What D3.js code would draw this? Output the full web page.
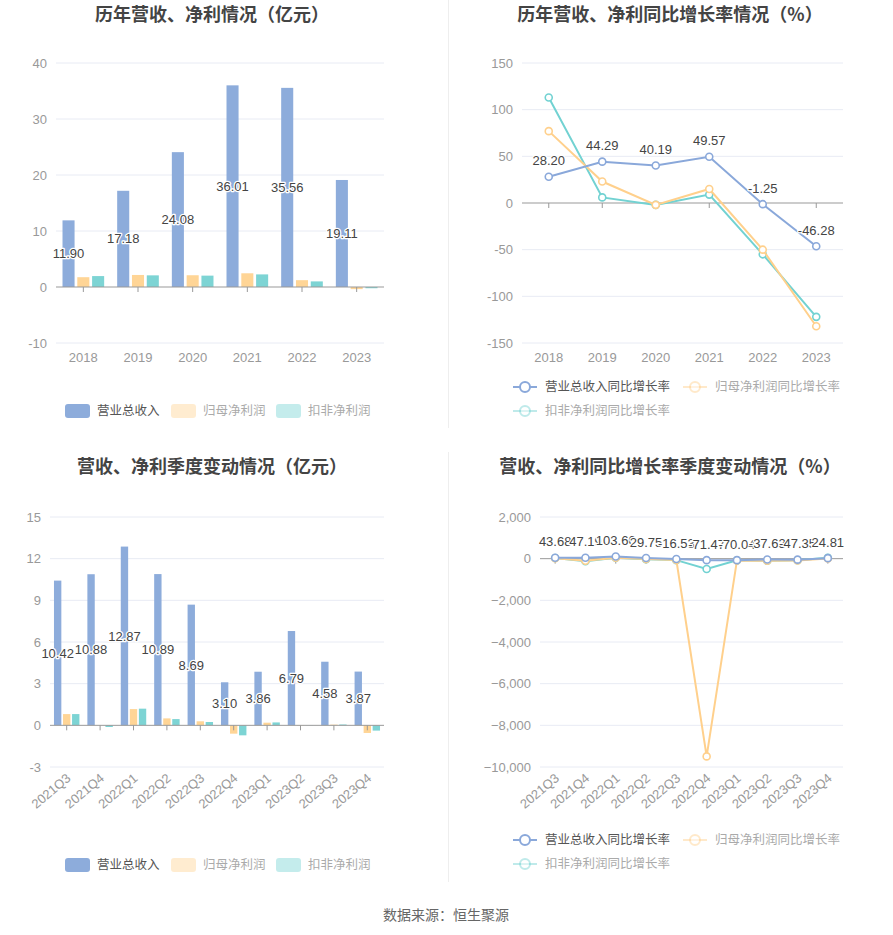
<!DOCTYPE html>
<html>
<head>
<meta charset="utf-8">
<script src="https://cdn.jsdelivr.net/npm/d3@7/dist/d3.min.js"></script>
<style>
body { margin: 0; background: #fff; }
svg text { font-family: "Liberation Sans", "Noto Sans CJK SC", sans-serif; }
.title { font-family: "Noto Sans CJK SC", sans-serif; font-weight: bold; }
.cn { font-family: "Noto Sans CJK SC", sans-serif; }
</style>
</head>
<body>
<svg width="893" height="935"></svg>
<script>
// yearly
var years = ['2018', '2019', '2020', '2021', '2022', '2023'];
var revenue = [11.90, 17.18, 24.08, 36.01, 35.56, 19.11];
var netProfit = [1.75, 2.15, 2.10, 2.45, 1.22, -0.38];
var deductedProfit = [1.95, 2.08, 2.03, 2.25, 1.00, -0.22];
var revenueYoY = [28.20, 44.29, 40.19, 49.57, -1.25, -46.28];
var netProfitYoY = [77, 23, -2, 15, -50, -132];
var deductedYoY = [113, 6, -2, 9, -55, -122];

// quarterly
var quarters = ['2021Q3', '2021Q4', '2022Q1', '2022Q2', '2022Q3', '2022Q4', '2023Q1', '2023Q2', '2023Q3', '2023Q4'];
var qRevenue = [10.42, 10.88, 12.87, 10.89, 8.69, 3.10, 3.86, 6.79, 4.58, 3.87];
var qNetProfit = [0.81, 0.006, 1.17, 0.50, 0.29, -0.60, 0.19, 0.02, 0.05, -0.55];
var qDeducted = [0.81, -0.12, 1.20, 0.45, 0.24, -0.72, 0.21, 0.01, 0.06, -0.38];
var qRevenueYoY = [43.68, 47.19, 103.60, 29.75, -16.53, -71.47, -70.04, -37.63, -47.35, 24.81];
var qNetProfitYoY = [20, -99, 45, -20, -64, -9490, -84, -96, -83, 8];
var qDeductedYoY = [30, -120, 40, -30, -70, -495, -82, -98, -75, 47];

var barNames = ['营业总收入', '归母净利润', '扣非净利润'];
var lineNames = ['营业总收入同比增长率', '归母净利润同比增长率', '扣非净利润同比增长率'];
var colors = ['#8DACDB', '#FFD596', '#7DD4D4'];
var lineColors = ['#8AA8DA', '#FFD08C', '#72D2D2'];

var svg = d3.select('svg');

// panel separators
svg.append('line').attr('x1', 448.5).attr('x2', 448.5).attr('y1', 0).attr('y2', 428).attr('stroke', '#eeeeee');
svg.append('line').attr('x1', 448.5).attr('x2', 448.5).attr('y1', 452).attr('y2', 882).attr('stroke', '#eeeeee');

function title(x, y, t) {
  svg.append('text').attr('class', 'title').attr('x', x).attr('y', y).attr('dy', '0.35em')
    .attr('text-anchor', 'middle').attr('font-size', 18).attr('fill', '#444').text(t);
}

function frame(o) {
  var g = svg.append('g');
  var y = d3.scaleLinear().domain(o.domain).range([o.bottom, o.top]);
  var x = d3.scaleBand().domain(o.cats).range([o.left, o.right]);
  var ticks = d3.range(o.domain[0], o.domain[1] + o.step / 2, o.step);
  g.selectAll('.grid').data(ticks.filter(function(t){ return t !== 0; })).join('line')
    .attr('x1', o.left).attr('x2', o.right)
    .attr('y1', function(d){ return y(d); }).attr('y2', function(d){ return y(d); })
    .attr('stroke', '#E8EBF4');
  g.selectAll('.yl').data(ticks).join('text')
    .attr('x', o.left - 9).attr('y', function(d){ return y(d); }).attr('dy', '0.35em')
    .attr('text-anchor', 'end').attr('font-size', 13).attr('fill', '#999')
    .text(function(d){ return o.fmt ? o.fmt(d) : d; });
  var c = function(d){ return x(d) + x.bandwidth() / 2; };
  if (o.rotate) {
    g.selectAll('.xl').data(o.cats).join('text')
      .attr('transform', function(d){ return 'translate(' + (c(d) + 2) + ',' + (o.bottom + 9) + ') rotate(-40)'; })
      .attr('dy', '0.35em').attr('text-anchor', 'end').attr('font-size', 13).attr('fill', '#999')
      .text(function(d){ return d; });
  } else {
    g.selectAll('.xl').data(o.cats).join('text')
      .attr('x', c).attr('y', o.bottom + 14).attr('dy', '0.35em')
      .attr('text-anchor', 'middle').attr('font-size', 13).attr('fill', '#999')
      .text(function(d){ return d; });
  }
  return {g: g, x: x, y: y, c: c};
}

function axisZero(f, o) {
  f.g.append('line').attr('x1', o.left).attr('x2', o.right)
    .attr('y1', f.y(0)).attr('y2', f.y(0)).attr('stroke', '#999');
  f.g.selectAll('.tk').data(o.cats).join('line')
    .attr('x1', f.c).attr('x2', f.c).attr('y1', f.y(0)).attr('y2', f.y(0) + 5).attr('stroke', '#999');
}

function label(g, x, y, t) {
  g.append('text').attr('x', x).attr('y', y).attr('dy', '0.35em')
    .attr('text-anchor', 'middle').attr('font-size', 13).attr('fill', '#444')
    .attr('stroke', '#fff').attr('stroke-width', 2.5).attr('paint-order', 'stroke')
    .attr('stroke-linejoin', 'round').text(t);
}

function barChart(o) {
  var f = frame(o);
  var x1 = d3.scaleBand().domain([0, 1, 2]).range([0, f.x.bandwidth()]).paddingInner(0.185).paddingOuter(0.44);
  o.series.forEach(function(vals, i) {
    f.g.selectAll('.b' + i).data(vals).join('rect')
      .attr('x', function(d, j){ return f.x(o.cats[j]) + x1(i); })
      .attr('y', function(d){ return Math.min(f.y(d), f.y(0)); })
      .attr('width', x1.bandwidth())
      .attr('height', function(d){ return Math.abs(f.y(d) - f.y(0)); })
      .attr('fill', colors[i]);
  });
  axisZero(f, o);
  o.series[0].forEach(function(d, j) {
    label(f.g, f.x(o.cats[j]) + x1(0) + x1.bandwidth() / 2, (f.y(d) + f.y(0)) / 2, d.toFixed(2));
  });
  // legend
  var lx = [65, 171, 276];
  barNames.forEach(function(n, i) {
    f.g.append('rect').attr('x', lx[i]).attr('y', o.legendY - 7).attr('width', 25).attr('height', 14)
      .attr('rx', 3).attr('fill', colors[i]).attr('opacity', i === 0 ? 1 : 0.45);
    f.g.append('text').attr('class', 'cn').attr('x', lx[i] + 32).attr('y', o.legendY).attr('dy', '0.35em')
      .attr('font-size', 12.5).attr('fill', i === 0 ? '#555' : '#aaa').text(n);
  });
}

function lineChart(o) {
  var f = frame(o);
  axisZero(f, o);
  var line = d3.line().x(function(d, j){ return f.c(o.cats[j]); }).y(function(d){ return f.y(d); });
  [2, 1, 0].forEach(function(i) {
    var vals = o.series[i];
    f.g.append('path').datum(vals).attr('d', line).attr('fill', 'none')
      .attr('stroke', lineColors[i]).attr('stroke-width', 2);
    f.g.selectAll('.p' + i).data(vals).join('circle')
      .attr('cx', function(d, j){ return f.c(o.cats[j]); }).attr('cy', function(d){ return f.y(d); })
      .attr('r', 3.5).attr('fill', '#fff').attr('stroke', lineColors[i]).attr('stroke-width', 1.6);
  });
  o.series[0].forEach(function(d, j) {
    label(f.g, f.c(o.cats[j]), f.y(d) - 16, d.toFixed(2));
  });
  var pos = [[513, o.legendY], [683, o.legendY], [513, o.legendY + 24]];
  lineNames.forEach(function(n, i) {
    var p = pos[i], op = i === 0 ? 1 : 0.45;
    f.g.append('line').attr('x1', p[0]).attr('x2', p[0] + 24).attr('y1', p[1]).attr('y2', p[1])
      .attr('stroke', lineColors[i]).attr('stroke-width', 2).attr('opacity', op);
    f.g.append('circle').attr('cx', p[0] + 12).attr('cy', p[1]).attr('r', 5)
      .attr('fill', '#fff').attr('stroke', lineColors[i]).attr('stroke-width', 2).attr('opacity', op);
    f.g.append('text').attr('class', 'cn').attr('x', p[0] + 32).attr('y', p[1]).attr('dy', '0.35em')
      .attr('font-size', 12.5).attr('fill', i === 0 ? '#555' : '#aaa').text(n);
  });
}

title(212, 15, '历年营收、净利情况（亿元）');
barChart({cats: years, series: [revenue, netProfit, deductedProfit], domain: [-10, 40], step: 10,
  left: 56, right: 384, top: 63, bottom: 343, legendY: 411});

title(670, 15, '历年营收、净利同比增长率情况（%）');
lineChart({cats: years, series: [revenueYoY, netProfitYoY, deductedYoY], domain: [-150, 150], step: 50,
  left: 522, right: 843, top: 63, bottom: 343, legendY: 387});

title(212, 467, '营收、净利季度变动情况（亿元）');
barChart({cats: quarters, series: [qRevenue, qNetProfit, qDeducted], domain: [-3, 15], step: 3,
  left: 50, right: 384, top: 517, bottom: 767, legendY: 865, rotate: true});

title(670, 467, '营收、净利同比增长率季度变动情况（%）');
lineChart({cats: quarters, series: [qRevenueYoY, qNetProfitYoY, qDeductedYoY], domain: [-10000, 2000], step: 2000,
  left: 540, right: 843, top: 517, bottom: 767, legendY: 840, rotate: true, fmt: d3.format(',')});

svg.append('text').attr('class', 'cn').attr('x', 446).attr('y', 915).attr('dy', '0.35em')
  .attr('text-anchor', 'middle').attr('font-size', 14).attr('fill', '#666').text('数据来源：恒生聚源');
</script>
</body>
</html>
